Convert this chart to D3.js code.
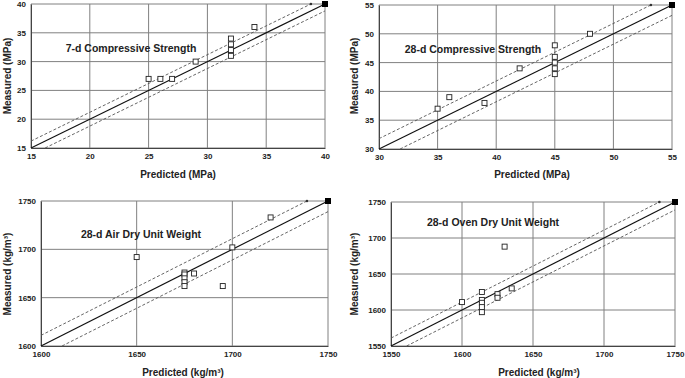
<!DOCTYPE html>
<html>
<head>
<meta charset="utf-8">
<script src="https://cdn.jsdelivr.net/npm/d3@7"></script>
<style>
  body { margin: 0; background: #fff; }
  text { font-family: "Liberation Sans", Arial, sans-serif; }
</style>
</head>
<body>
<div id="chart"></div>
<script>
// 7-d compressive strength
const predicted7d = [25, 26, 27, 29, 32, 32, 32, 32, 34];
const measured7d  = [27, 27, 27, 30, 34, 33, 32, 31, 36];
const ticks7d = [15, 20, 25, 30, 35, 40];

// 28-d compressive strength
const predicted28d = [35, 36, 39, 42, 45, 45, 45, 45, 45, 48];
const measured28d  = [37, 39, 38, 44, 48, 46, 45, 44, 43, 50];
const ticks28d = [30, 35, 40, 45, 50, 55];

// 28-d air dry unit weight
const predictedAir = [1650, 1675, 1675, 1675, 1675, 1675, 1680, 1695, 1700, 1720];
const measuredAir  = [1692, 1676, 1674, 1670, 1666, 1662, 1675, 1662, 1702, 1733];
const ticksAir = [1600, 1650, 1700, 1750];

// 28-d oven dry unit weight
const predictedOven = [1600, 1614, 1614, 1614, 1614, 1614, 1625, 1625, 1630, 1635];
const measuredOven  = [1611, 1625, 1614, 1610, 1604, 1597, 1622, 1617, 1688, 1630];
const ticksOven = [1550, 1600, 1650, 1700, 1750];

// +/- band drawn as dashed lines around the line of equality
const bandWidth = [1.2, 1.8, 11, 11];

const titles = ['7-d Compressive Strength', '28-d Compressive Strength',
                '28-d Air Dry Unit Weight', '28-d Oven Dry Unit Weight'];
const xLabels = ['Predicted (MPa)', 'Predicted (MPa)', 'Predicted (kg/m³)', 'Predicted (kg/m³)'];
const yLabels = ['Measured (MPa)', 'Measured (MPa)', 'Measured (kg/m³)', 'Measured (kg/m³)'];

const width = 685;
const height = 378;

const svg = d3.select('#chart')
    .append('svg')
    .attr('width', width)
    .attr('height', height);

// plot areas: left, top, right, bottom
const panels = [
    { box: [31, 4, 325, 148], title: [131, 48], xl: [178, 174], yl: [7, 76] },
    { box: [379, 5, 672, 149], title: [473, 49], xl: [532, 174], yl: [354, 76] },
    { box: [41, 201, 328, 346], title: [141, 234], xl: [183, 372], yl: [7, 274] },
    { box: [391, 202, 675, 346], title: [493, 222], xl: [539, 372], yl: [354, 274] }
];

const series = [
    { x: predicted7d, y: measured7d, ticks: ticks7d },
    { x: predicted28d, y: measured28d, ticks: ticks28d },
    { x: predictedAir, y: measuredAir, ticks: ticksAir },
    { x: predictedOven, y: measuredOven, ticks: ticksOven }
];

series.forEach((s, i) => drawPanel(s, panels[i], i));

function drawPanel(s, p, i)
{
    const [x0, y0, x1, y1] = p.box;
    const lo = d3.min(s.ticks);
    const hi = d3.max(s.ticks);
    const off = bandWidth[i];

    const xScale = d3.scaleLinear().domain([lo, hi]).range([x0, x1]);
    const yScale = d3.scaleLinear().domain([lo, hi]).range([y1, y0]);

    const g = svg.append('g');

    // grid
    g.selectAll('.vgrid')
        .data(s.ticks)
        .enter()
        .append('line')
        .attr('x1', d => xScale(d))
        .attr('x2', d => xScale(d))
        .attr('y1', y0)
        .attr('y2', y1)
        .attr('stroke', '#808080')
        .attr('stroke-width', 1);

    g.selectAll('.hgrid')
        .data(s.ticks)
        .enter()
        .append('line')
        .attr('x1', x0)
        .attr('x2', x1)
        .attr('y1', d => yScale(d))
        .attr('y2', d => yScale(d))
        .attr('stroke', '#808080')
        .attr('stroke-width', 1);

    // axes
    const fmt = d3.format('d');
    const xAxis = d3.axisBottom(xScale).tickValues(s.ticks).tickFormat(fmt).tickSize(0).tickPadding(5);
    g.append('g')
        .attr('transform', `translate(0, ${y1})`)
        .call(xAxis)
        .call(a => a.select('.domain').attr('stroke', '#444'))
        .selectAll('text')
        .attr('font-size', 8)
        .attr('font-weight', 'bold')
        .attr('fill', '#222')
        .style('font-family', '"Liberation Sans", Arial, sans-serif');

    const yAxis = d3.axisLeft(yScale).tickValues(s.ticks).tickFormat(fmt).tickSize(0).tickPadding(5);
    g.append('g')
        .attr('transform', `translate(${x0}, 0)`)
        .call(yAxis)
        .call(a => a.select('.domain').attr('stroke', '#444'))
        .selectAll('text')
        .attr('font-size', 8)
        .attr('font-weight', 'bold')
        .attr('fill', '#222')
        .style('font-family', '"Liberation Sans", Arial, sans-serif');

    // line of equality and +/- band
    const line = d3.line().x(d => xScale(d[0])).y(d => yScale(d[1]));

    g.append('path')
        .attr('d', line([[lo, lo], [hi, hi]]))
        .attr('fill', 'none')
        .attr('stroke', '#111')
        .attr('stroke-width', 1.2);

    g.append('path')
        .attr('d', line([[lo, lo + off], [hi - off, hi]]))
        .attr('fill', 'none')
        .attr('stroke', '#555')
        .attr('stroke-width', 0.9)
        .attr('stroke-dasharray', '3,2');

    g.append('path')
        .attr('d', line([[lo + off, lo], [hi, hi - off]]))
        .attr('fill', 'none')
        .attr('stroke', '#555')
        .attr('stroke-width', 0.9)
        .attr('stroke-dasharray', '3,2');

    // end markers
    g.append('rect')
        .attr('x', xScale(hi) - 3)
        .attr('y', yScale(hi) - 3)
        .attr('width', 6)
        .attr('height', 6)
        .attr('fill', '#000');

    g.append('circle')
        .attr('cx', xScale(hi - off))
        .attr('cy', yScale(hi))
        .attr('r', 1.3)
        .attr('fill', '#333');

    // data points
    g.selectAll('.pt')
        .data(s.x.map((d, k) => [d, s.y[k]]))
        .enter()
        .append('rect')
        .attr('x', d => xScale(d[0]) - 2.5)
        .attr('y', d => yScale(d[1]) - 2.5)
        .attr('width', 5)
        .attr('height', 5)
        .attr('fill', '#fff')
        .attr('stroke', '#222')
        .attr('stroke-width', 0.9);

    // title inside plot
    g.append('text')
        .attr('x', p.title[0])
        .attr('y', p.title[1])
        .attr('dy', '0.35em')
        .style('text-anchor', 'middle')
        .attr('font-size', 10.5)
        .attr('font-weight', 'bold')
        .attr('fill', '#222')
        .text(titles[i]);

    // axis labels
    g.append('text')
        .attr('x', p.xl[0])
        .attr('y', p.xl[1])
        .attr('dy', '0.35em')
        .style('text-anchor', 'middle')
        .attr('font-size', 10)
        .attr('font-weight', 'bold')
        .attr('fill', '#222')
        .text(xLabels[i]);

    g.append('text')
        .attr('transform', `translate(${p.yl[0]}, ${p.yl[1]}) rotate(-90)`)
        .attr('dy', '0.35em')
        .style('text-anchor', 'middle')
        .attr('font-size', 10)
        .attr('font-weight', 'bold')
        .attr('fill', '#222')
        .text(yLabels[i]);
}
</script>
</body>
</html>
